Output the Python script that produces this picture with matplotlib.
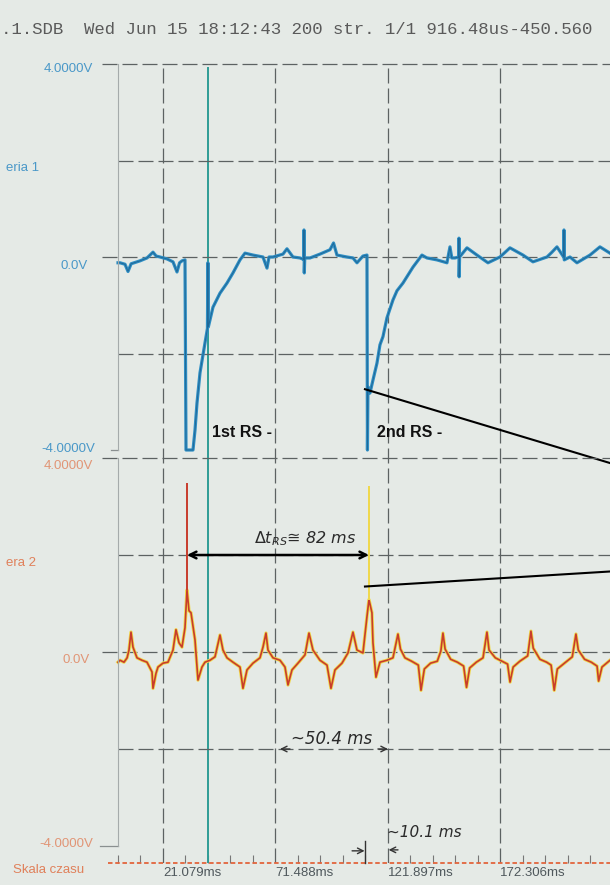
import matplotlib
matplotlib.use("Agg")
import matplotlib.pyplot as plt
import matplotlib.transforms as mtransforms
import numpy as np

# --- data (time in ms, voltage in V) ---
header = ".1.SDB  Wed Jun 15 18:12:43 200 str. 1/1 916.48us-450.560"
t_start = 0.916          # 916.48 us
t_end = 221.4            # right edge of the scanned page

major_ticks = [21.079, 71.488, 121.897, 172.306]
volt_labels_1 = ["4.0000V", "0.0V", "-4.0000V"]
volt_labels_2 = ["4.0000V", "0.0V", "-4.0000V"]

ch1_t = [0.92, 1.81, 4.05, 5.40, 6.80, 10.77, 13.91, 16.60, 18.00, 19.74,
         22.87, 25.56, 27.35, 28.50, 29.59, 30.94, 31.39, 32.50, 34.52, 35.42,
         36.31, 37.66, 39.90, 41.00, 41.20, 41.40, 43.48, 46.62, 49.76, 52.44,
         55.58, 57.82, 61.41, 65.89, 67.68, 68.60, 70.37, 74.85, 76.64, 79.33,
         82.47, 84.10, 84.26, 84.40, 84.60, 86.95, 91.43, 95.91, 97.50, 99.04,
         103.52, 106.21, 108.01, 110.69, 112.49, 112.70, 112.93, 113.83, 115.18, 116.97,
         118.31, 119.66, 121.45, 124.14, 125.93, 128.62, 133.10, 137.13, 139.37, 143.85,
         148.33, 149.68, 150.50, 151.92, 153.60, 153.71, 153.80, 154.00, 157.30, 161.78,
         166.71, 172.09, 176.57, 182.40, 186.88, 193.15, 195.39, 197.63, 200.60, 200.77,
         200.90, 203.46, 206.59, 212.42, 216.90, 221.38]
ch1_v = [-0.12, -0.12, -0.15, -0.30, -0.14, -0.08, -0.02, 0.10, 0.02, 0.00,
         -0.04, -0.10, -0.31, -0.12, -0.08, -0.06, -4.00, -4.00, -4.00, -3.59,
         -3.03, -2.40, -1.78, -1.48, -0.12, -1.45, -1.04, -0.75, -0.54, -0.33,
         -0.06, 0.08, 0.04, 0.00, -0.23, 0.00, 0.00, 0.06, 0.17, 0.00,
         -0.02, -0.05, 0.56, -0.33, -0.02, -0.02, 0.06, 0.15, 0.29, 0.04,
         0.00, -0.02, -0.12, 0.02, 0.04, -4.00, -2.69, -2.82, -2.55, -2.20,
         -1.82, -1.65, -1.26, -0.89, -0.70, -0.54, -0.21, 0.04, -0.02, -0.06,
         -0.12, 0.21, -0.02, -0.02, 0.00, 0.39, -0.41, 0.00, 0.19, 0.04,
         -0.12, 0.00, 0.19, 0.04, -0.10, 0.00, 0.10, 0.21, 0.00, 0.56,
         -0.06, 0.00, -0.12, 0.04, 0.21, 0.08]

ch2_t = [0.92, 1.81, 3.60, 5.00, 5.84, 6.74, 7.63, 9.43, 11.67, 13.91,
         16.15, 16.60, 17.94, 18.84, 21.08, 23.32, 25.56, 26.90, 28.25, 29.59,
         30.94, 31.83, 32.73, 33.63, 35.42, 36.76, 38.55, 39.90, 42.14, 44.38,
         46.62, 47.96, 49.76, 52.44, 55.58, 56.92, 58.72, 61.41, 64.54, 65.89,
         67.23, 68.13, 70.37, 73.51, 75.75, 77.09, 78.88, 81.57, 84.71, 86.50,
         88.29, 91.43, 94.57, 96.36, 98.15, 101.29, 103.98, 106.21, 108.01, 110.69,
         112.49, 113.38, 114.72, 115.18, 116.52, 118.31, 121.45, 124.14, 126.38, 127.50,
         129.50, 132.50, 135.50, 136.70, 138.20, 141.00, 144.00, 145.60, 146.54, 147.50,
         150.00, 153.00, 155.80, 157.10, 158.50, 161.50, 164.50, 166.26, 167.20, 170.00,
         173.00, 175.50, 176.60, 178.00, 181.00, 184.50, 185.97, 187.00, 190.00, 193.00,
         195.00, 196.40, 197.80, 201.00, 204.50, 206.14, 207.20, 210.00, 213.00, 215.60,
         216.30, 217.80, 221.40]
ch2_v = [-0.21, -0.17, -0.21, -0.12, 0.04, 0.41, 0.10, -0.12, -0.17, -0.21,
         -0.41, -0.75, -0.44, -0.31, -0.23, -0.21, 0.04, 0.46, 0.19, 0.10,
         0.50, 1.28, 0.85, 0.81, 0.25, -0.58, -0.31, -0.21, -0.17, -0.10,
         0.35, 0.04, -0.12, -0.21, -0.31, -0.75, -0.37, -0.23, -0.12, 0.10,
         0.39, 0.04, -0.12, -0.17, -0.31, -0.68, -0.37, -0.23, -0.06, 0.39,
         0.04, -0.17, -0.27, -0.75, -0.37, -0.23, -0.02, 0.41, 0.04, -0.02,
         0.73, 1.08, 0.81, 0.19, -0.52, -0.21, -0.17, -0.12, 0.37, 0.06,
         -0.12, -0.19, -0.27, -0.79, -0.35, -0.23, -0.19, 0.02, 0.39, 0.06,
         -0.15, -0.21, -0.29, -0.73, -0.33, -0.21, -0.12, 0.41, 0.04, -0.12,
         -0.19, -0.25, -0.62, -0.31, -0.19, -0.08, 0.43, 0.08, -0.15, -0.21,
         -0.27, -0.79, -0.35, -0.23, -0.10, 0.37, 0.04, -0.15, -0.21, -0.29,
         -0.60, -0.31, -0.17]

# thin spikes of channel 2 (return strokes)
ch2_spike_t = [31.83, 113.38]
ch2_spike_base = [1.28, 1.08]
ch2_spike_top = [3.48, 3.42]

cursor_t = 41.24
rs_labels = ["1st RS -", "2nd RS -"]
rs_label_t = [43.0, 117.0]

# hand drawn pointer lines going off to the right
pointer1_t = [111.59, 221.38]
pointer1_v = [-2.74, -4.27]
pointer2_t = [111.59, 221.38]
pointer2_v = [1.35, 1.66]

# --- styling ---
W, H = 610, 885
BG = "#e5eae6"
GRID = "#5c6262"
BLUE = "#2f8fc4"
BLUE_DARK = "#1c5f8e"
RED = "#c83c2c"
YELLOW = "#f0d84a"
TEAL = "#2f9c95"
LBL_BLUE = "#4a98c8"
LBL_RED = "#e0805a"
DASH = (0, (12, 4))


def px_box(x0, y0, x1, y1):
    return [x0 / W, 1 - y1 / H, (x1 - x0) / W, (y1 - y0) / H]


fig = plt.figure(figsize=(W / 100, H / 100), dpi=100, facecolor=BG)

# time scale + vertical grid, spans both channels
axg = fig.add_axes(px_box(118, 64, 610, 863))
axg.set_xlim(t_start, t_end)
axg.set_ylim(0, 1)
axg.patch.set_alpha(0)
for s in axg.spines.values():
    s.set_visible(False)
axg.set_yticks([])
minor_step = (major_ticks[1] - major_ticks[0]) / 5
axg.set_xticks(major_ticks)
axg.set_xticklabels([f"{v:.3f}ms" for v in major_ticks])
axg.set_xticks(np.arange(major_ticks[0] - 2 * minor_step, t_end, minor_step), minor=True)
axg.tick_params(which="major", length=0, pad=3, labelsize=9.5, labelcolor="#4f585c")
axg.tick_params(which="minor", direction="in", length=6, width=0.8, color="#777777")
for lab in axg.get_xticklabels():
    lab.set_horizontalalignment("left")
    lab.set_family("Liberation Sans")
axg.grid(axis="x", which="major", color=GRID, lw=0.9, linestyle=DASH)
axg.plot([-0.02, 1], [0, 0], transform=axg.transAxes, clip_on=False,
         color="#e2643c", lw=1.3, linestyle=(0, (2.5, 1.5)))
axg.axvline(cursor_t, ymin=0, ymax=(863 - 68) / (863 - 64), color=TEAL, lw=1.4)


def channel_axes(box, bottom_stub):
    ax = fig.add_axes(box)
    ax.set_xlim(t_start, t_end)
    ax.set_ylim(-4, 4)
    ax.patch.set_alpha(0)
    for name, s in ax.spines.items():
        s.set_visible(name == "left")
    ax.spines["left"].set_color("#a5abab")
    ax.spines["left"].set_linewidth(0.8)
    ax.set_xticks([])
    ax.set_yticks([])
    tr = mtransforms.blended_transform_factory(ax.transAxes, ax.transData)
    for v in (-2, 2):
        ax.axhline(v, color=GRID, lw=0.9, linestyle=DASH)
    for v in (0, 4):
        ax.plot([-0.033, 1], [v, v], transform=tr, clip_on=False,
                color=GRID, lw=0.9, linestyle=DASH)
    ax.plot([-bottom_stub, 0], [-4, -4], transform=tr, clip_on=False,
            color="#8a9090", lw=0.9)
    return ax


ax1 = channel_axes(px_box(118, 64, 610, 450), 0.015)
ax2 = channel_axes(px_box(118, 458, 610, 846), 0.037)

# channel 1 trace
ax1.plot(ch1_t, ch1_v, color=BLUE, lw=2.3, clip_on=False, solid_joinstyle="round")
ax1.plot(ch1_t, ch1_v, color=BLUE_DARK, lw=0.7, alpha=0.8, clip_on=False)

# channel 2 trace
ax2.plot(ch2_t, ch2_v, color=YELLOW, lw=2.4, clip_on=False)
ax2.plot(ch2_t, ch2_v, color=RED, lw=1.2, clip_on=False)
ax2.vlines(ch2_spike_t, ch2_spike_base, ch2_spike_top, colors=[RED, YELLOW], lw=1.4)

# annotations
for lab, t in zip(rs_labels, rs_label_t):
    ax1.text(t, -3.63, lab, ha="left", va="center", fontsize=11.5, fontweight="bold",
             family=["Liberation Sans Narrow", "Liberation Sans"], color="#111111")
ax1.plot(pointer1_t, pointer1_v, color="k", lw=1.5, clip_on=False)
ax2.plot(pointer2_t, pointer2_v, color="k", lw=1.5, clip_on=False)

ax2.annotate("", xy=(ch2_spike_t[0], 2.0), xytext=(ch2_spike_t[1], 2.0),
             arrowprops=dict(arrowstyle="<->", lw=1.8, color="k", mutation_scale=12,
                             shrinkA=0, shrinkB=0))
ax2.text(84.7, 2.34, r"$\Delta t_{RS}$" + "≅ 82 ms", ha="center", va="center",
         fontsize=11.5, color="#2a2a2a", style="italic")

ax2.annotate("", xy=(major_ticks[1] + 2.0, -2.0), xytext=(major_ticks[1] + 6.5, -2.0),
             arrowprops=dict(arrowstyle="->", lw=1.0, color="#333333", mutation_scale=10,
                             shrinkA=0, shrinkB=0))
ax2.annotate("", xy=(major_ticks[2], -2.0), xytext=(major_ticks[2] - 4.5, -2.0),
             arrowprops=dict(arrowstyle="->", lw=1.0, color="#333333", mutation_scale=10,
                             shrinkA=0, shrinkB=0))
ax2.text(96.8, -1.80, "~50.4 ms", ha="center", va="center", fontsize=12,
         color="#2a2a2a", style="italic")

mark_t = major_ticks[2] - minor_step
ax2.plot([mark_t, mark_t], [-3.90, -4.35], color="#333333", lw=1.0, clip_on=False)
ax2.annotate("", xy=(mark_t - 0.4, -4.10), xytext=(mark_t - 6.0, -4.10),
             arrowprops=dict(arrowstyle="->", lw=1.0, color="#333333", mutation_scale=10,
                             shrinkA=0, shrinkB=0), annotation_clip=False)
ax2.annotate("", xy=(major_ticks[2] + 0.3, -4.08), xytext=(major_ticks[2] + 4.5, -4.08),
             arrowprops=dict(arrowstyle="->", lw=1.0, color="#333333", mutation_scale=10,
                             shrinkA=0, shrinkB=0), annotation_clip=False)
ax2.text(138.0, -3.73, "~10.1 ms", ha="center", va="center", fontsize=11,
         color="#2a2a2a", style="italic")

# left-hand labels
lbl = dict(family="Liberation Sans", fontsize=9.5, va="center", ha="right")
fig.text(93 / W, 1 - 69 / H, volt_labels_1[0], color=LBL_BLUE, **lbl)
fig.text(88 / W, 1 - 266 / H, volt_labels_1[1], color=LBL_BLUE, **lbl)
fig.text(95 / W, 1 - 449 / H, volt_labels_1[2], color=LBL_BLUE, **lbl)
fig.text(93 / W, 1 - 466 / H, volt_labels_2[0], color=LBL_RED, alpha=0.8, **lbl)
fig.text(90 / W, 1 - 660 / H, volt_labels_2[1], color=LBL_RED, alpha=0.8, **lbl)
fig.text(93 / W, 1 - 844 / H, volt_labels_2[2], color=LBL_RED, alpha=0.8, **lbl)
fig.text(6 / W, 1 - 168 / H, "eria 1", color=LBL_BLUE, family="Liberation Sans",
         fontsize=9.5, va="center")
fig.text(6 / W, 1 - 563 / H, "era 2", color=LBL_RED, family="Liberation Sans",
         fontsize=9.5, va="center")
fig.text(13 / W, 1 - 870 / H, "Skala czasu", color=LBL_RED, family="Liberation Sans",
         fontsize=9.5, va="center")

fig.text(0.002, 1 - 30 / H, header, family="Liberation Mono", fontsize=12.5,
         color="#5a5a5a", va="center", ha="left")

fig.savefig("out.png", dpi=100, facecolor=BG)
